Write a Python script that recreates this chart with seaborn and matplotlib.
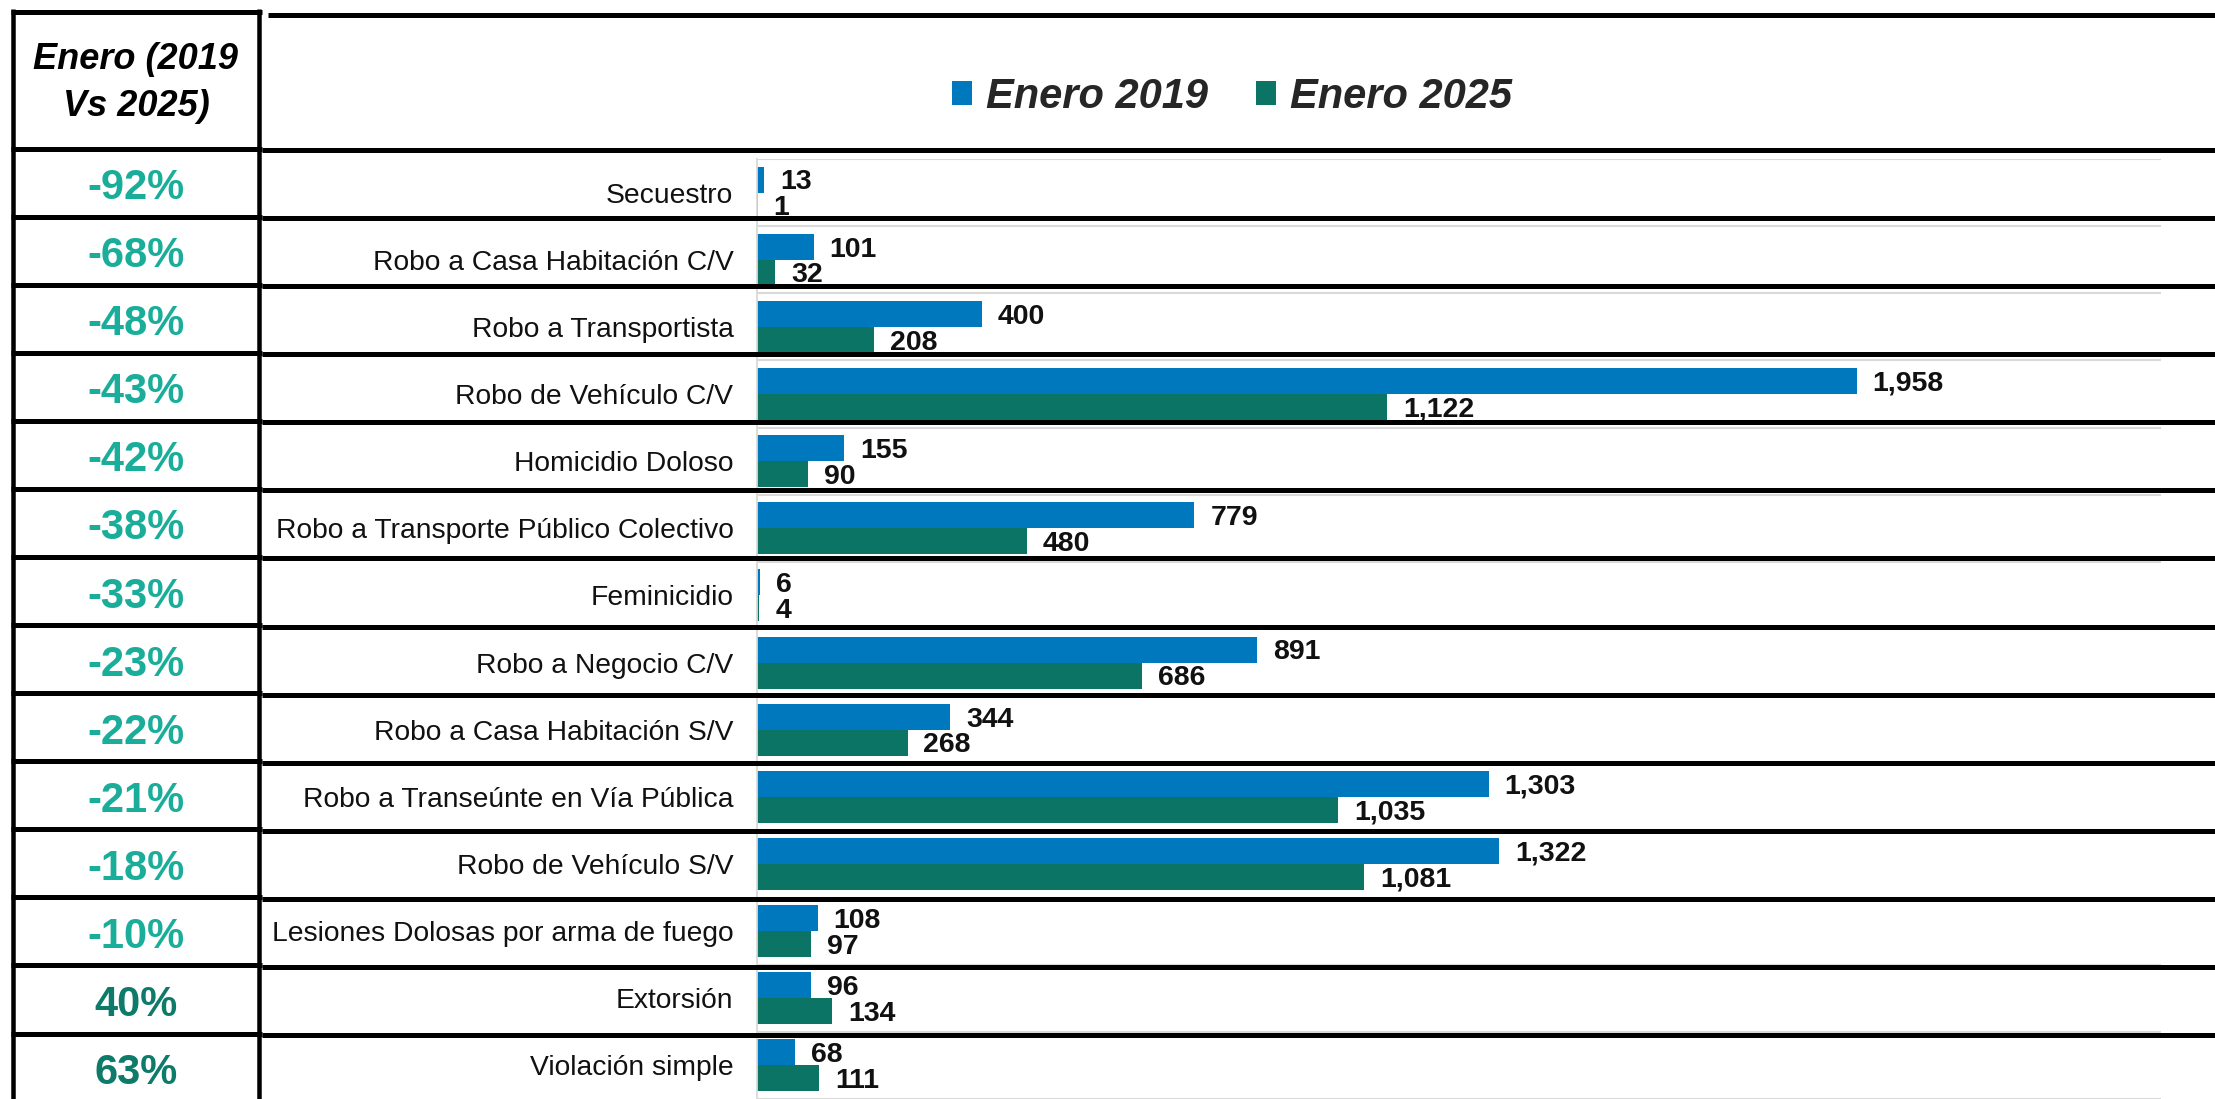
import matplotlib
matplotlib.use("Agg")
import matplotlib.pyplot as plt
import seaborn as sns
import pandas as pd
from matplotlib.lines import Line2D

# ---------------- data ----------------
categories = [
    "Secuestro",
    "Robo a Casa Habitación C/V",
    "Robo a Transportista",
    "Robo de Vehículo C/V",
    "Homicidio Doloso",
    "Robo a Transporte Público Colectivo",
    "Feminicidio",
    "Robo a Negocio C/V",
    "Robo a Casa Habitación S/V",
    "Robo a Transeúnte en Vía Pública",
    "Robo de Vehículo S/V",
    "Lesiones Dolosas por arma de fuego",
    "Extorsión",
    "Violación simple",
]
enero_2019 = [13, 101, 400, 1958, 155, 779, 6, 891, 344, 1303, 1322, 108, 96, 68]
enero_2025 = [1, 32, 208, 1122, 90, 480, 4, 686, 268, 1035, 1081, 97, 134, 111]
pct_change = [-92, -68, -48, -43, -42, -38, -33, -23, -22, -21, -18, -10, 40, 63]
series_labels = ["Enero 2019", "Enero 2025"]
header_text = "Enero (2019\nVs 2025)"

# ---------------- style ----------------
BLUE = "#0078BE"
GREEN = "#0C7464"
PCT_NEG = "#1AAE9A"
PCT_POS = "#0E7A69"
GRID = "#D9D9D9"

sns.set_style("white")
plt.rcParams["font.family"] = ["Liberation Sans", "DejaVu Sans"]

W, H = 2215, 1099
fig = plt.figure(figsize=(W / 100, H / 100), dpi=100)
fig.patch.set_facecolor("white")

# chart axes (pixel-measured placement)
ax_left, ax_right, ax_top = 757, 2161, 159
ax = fig.add_axes([ax_left / W, 0, (ax_right - ax_left) / W, (H - ax_top) / H])

df = pd.DataFrame({
    "Delito": categories * 2,
    "Periodo": [series_labels[0]] * len(categories) + [series_labels[1]] * len(categories),
    "Valor": enero_2019 + enero_2025,
})

sns.barplot(data=df, y="Delito", x="Valor", hue="Periodo", order=categories,
            hue_order=series_labels, palette=[BLUE, GREEN], orient="h",
            width=0.773, saturation=1, errorbar=None, linewidth=0, ax=ax)

ax.set_xlim(0, 2500)
ax.set_ylim(13.47, -0.5)
ax.set_xlabel("")
ax.set_ylabel("")
ax.xaxis.set_visible(False)
for s in ["top", "right", "bottom"]:
    ax.spines[s].set_visible(False)
ax.spines["left"].set_color(GRID)
ax.spines["left"].set_linewidth(1.3)
ax.tick_params(axis="y", which="major", length=0, pad=17, labelsize=20.3, labelcolor="#111111")
ax.set_yticks([i - 0.5 for i in range(len(categories) + 1)], minor=True)
ax.tick_params(axis="y", which="minor", length=0)
ax.grid(which="minor", axis="y", color=GRID, linewidth=1.5)
ax.grid(which="major", visible=False)
ax.set_axisbelow(True)

for cont, vals in zip(ax.containers, [enero_2019, enero_2025]):
    anns = ax.bar_label(cont, labels=[f"{v:,}" for v in vals], padding=11.5,
                        fontsize=20.5, fontweight="bold", color="#111111")
    for a in anns:
        a.xyann = (11.5, -2)

# legend
handles, labels = ax.get_legend_handles_labels()
if ax.legend_ is not None:
    ax.legend_.remove()
fig.legend(handles, labels, loc="center", bbox_to_anchor=(1232 / W, 1 - 97 / H),
           ncol=2, frameon=False, handlelength=0.48, handleheight=0.5,
           handletextpad=0.34, columnspacing=1.15,
           prop={"size": 30, "weight": "bold", "style": "italic"})

# ---------------- table overlay ----------------
ov = fig.add_axes([0, 0, 1, 1])
ov.set_zorder(10)
ov.patch.set_alpha(0)
ov.set_xlim(0, W)
ov.set_ylim(H, 0)
ov.axis("off")

lw_v = 4.5 * 0.72
lw_h = 5.0 * 0.72
row0, row_h = 150, 68.08

# left table frame
ov.add_line(Line2D([13, 13], [9, H], color="black", lw=lw_v, solid_capstyle="butt"))
ov.add_line(Line2D([259.5, 259.5], [9, H], color="black", lw=lw_v, solid_capstyle="butt"))
ov.add_line(Line2D([11, 262], [11.5, 11.5], color="black", lw=lw_h, solid_capstyle="butt"))
# right region top line
ov.add_line(Line2D([268, W], [14.5, 14.5], color="black", lw=lw_h, solid_capstyle="butt"))
for i in range(len(categories)):
    y = row0 + row_h * i
    ov.add_line(Line2D([11, 262], [y - 1.5, y - 1.5], color="black", lw=lw_h, solid_capstyle="butt"))
    ov.add_line(Line2D([262, W], [y, y], color="black", lw=lw_h, solid_capstyle="butt"))

# header text of left table
ov.text(136, 83, header_text, ha="center", va="center", fontsize=26,
        fontweight="bold", style="italic", color="black", linespacing=1.45)

# percent column
for i, p in enumerate(pct_change):
    y = row0 + row_h * (i + 0.5) + 4
    ov.text(136, y, f"{p}%", ha="center", va="center", fontsize=30,
            fontweight="bold", color=PCT_NEG if p < 0 else PCT_POS)

fig.savefig("out.png", dpi=100)
